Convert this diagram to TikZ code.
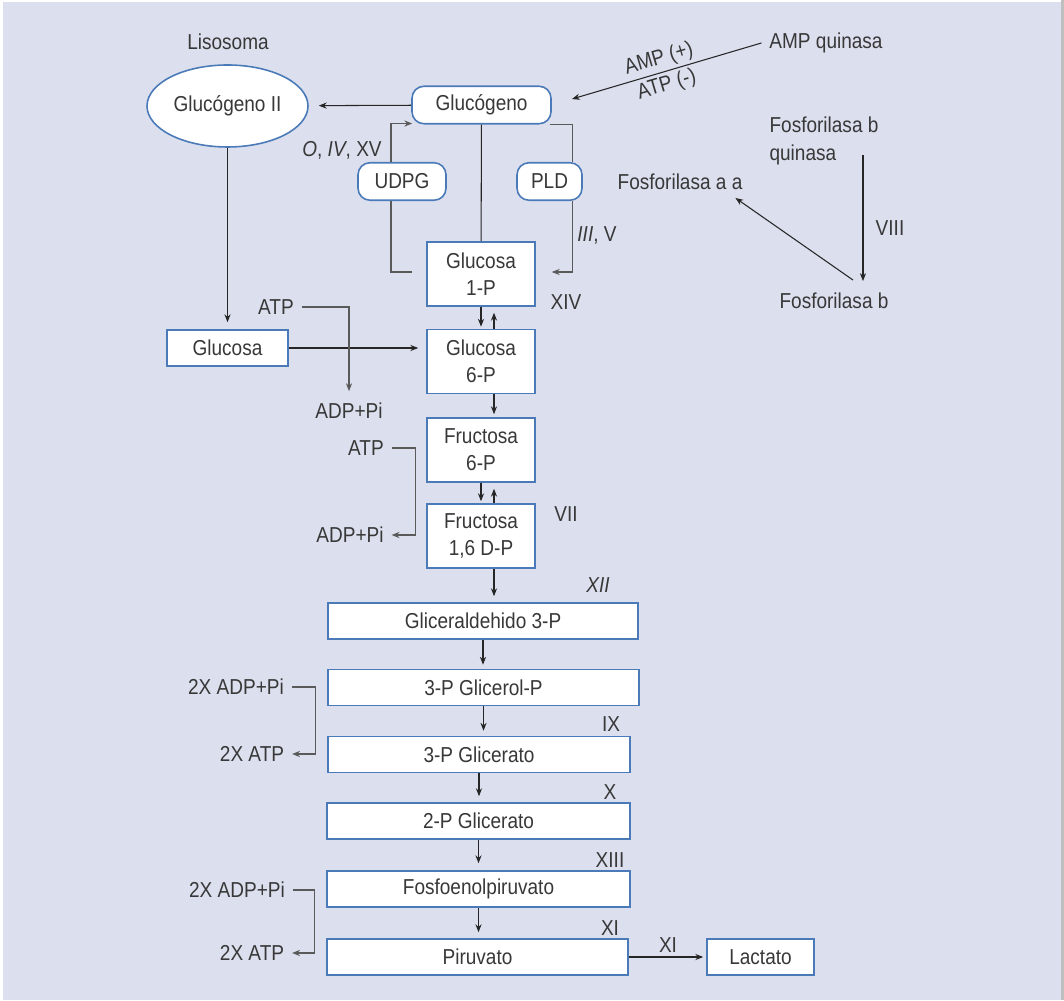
\documentclass[tikz,border=0pt]{standalone}
\usepackage{fontspec}
\setmainfont{Liberation Sans}[FakeStretch=0.88]
\usepackage{tikz}
\usetikzlibrary{shapes,arrows.meta,positioning}

\definecolor{fondo}{HTML}{DCDFEE}
\definecolor{borde}{HTML}{4A7AB8}
\definecolor{texto}{HTML}{383838}
\definecolor{codogris}{HTML}{5A5A5A}

\tikzset{
	caja/.style={draw=borde,fill=white,line width=0.9pt,inner sep=0pt,align=center,minimum height=0.72cm},
	doble/.style={caja,minimum width=2.16cm,minimum height=1.28cm},
	redonda/.style={caja,rounded corners=0.24cm,minimum height=0.75cm},
	ovalo/.style={caja,ellipse,minimum width=3.22cm,minimum height=1.64cm},
	etiq/.style={inner sep=0.15cm,align=left},
	codo/.style={draw=codogris},
}

\begin{document}
\begin{tikzpicture}[>={Stealth[length=4.5pt,width=3.5pt]},every node/.style={text=texto,font=\fontsize{12.3}{15.5}\selectfont},line width=0.6pt,draw=black!85]
	\useasboundingbox (0,0) rectangle (21.28,20);
	\fill[fondo] (0.05,0) rectangle (21.22,19.95);
	\fill[black!25] (21.22,0) rectangle (21.28,20);
	\node[etiq] (3) at (4.56,19.16) {Lisosoma};
	\node[ovalo] (2) at (4.55,17.88) {Glucógeno II};
	\node[redonda,minimum width=2.78cm] (1) at (9.63,17.9) {Glucógeno};
	\node[redonda,minimum width=1.76cm] (4) at (8.04,16.37) {UDPG};
	\node[redonda,minimum width=1.3cm] (5) at (10.99,16.37) {PLD};
	\node[doble] (6) at (9.62,14.52) {Glucosa\\1-P};
	\node[caja,minimum width=2.42cm] (7) at (4.55,13.04) {Glucosa};
	\node[doble] (8) at (9.62,12.77) {Glucosa\\6-P};
	\node[doble] (9) at (9.62,11.0) {Fructosa\\6-P};
	\node[doble] (10) at (9.62,9.28) {Fructosa\\1,6 D-P};
	\node[caja,minimum width=6.2cm] (11) at (9.66,7.58) {Gliceraldehido 3-P};
	\node[caja,minimum width=6.22cm] (12) at (9.67,6.25) {3-P Glicerol-P};
	\node[caja,minimum width=6.04cm] (13) at (9.58,4.91) {3-P Glicerato};
	\node[caja,minimum width=6.06cm] (14) at (9.57,3.58) {2-P Glicerato};
	\node[caja,minimum width=6.06cm] (15) at (9.57,2.22) {Fosfoenolpiruvato};
	\node[caja,minimum width=6.02cm] (16) at (9.55,0.86) {Piruvato};
	\node[caja,minimum width=2.14cm] (17) at (15.21,0.86) {Lactato};
	\node[etiq] (18) at (5.52,13.86) {ATP};
	\node[etiq] (19) at (6.98,11.78) {ADP+Pi};
	\node[etiq] (20) at (7.32,11.04) {ATP};
	\node[etiq] (21) at (7.0,9.3) {ADP+Pi};
	\node[etiq] (22) at (4.72,6.26) {2X ADP+Pi};
	\node[etiq] (23) at (5.04,4.92) {2X ATP};
	\node[etiq] (24) at (4.74,2.2) {2X ADP+Pi};
	\node[etiq] (25) at (5.04,0.94) {2X ATP};
	\node[etiq] (26) at (16.52,19.14) {AMP quinasa};
	\node[etiq] (27) at (16.48,17.18) {Fosforilasa b\\quinasa};
	\node[etiq] (28) at (16.68,13.98) {Fosforilasa b};
	\node[etiq] (29) at (13.6,16.36) {Fosforilasa a a};
	\node (30) at (6.84,17.0) {\textit{O}, \textit{IV}, XV};
	\node (31) at (11.94,15.3) {\textit{III}, V};
	\node (32) at (11.32,13.96) {XIV};
	\node (33) at (11.32,9.72) {VII};
	\node (34) at (11.96,8.3) {\textit{XII}};
	\node (35) at (12.22,5.52) {IX};
	\node (36) at (12.2,4.16) {X};
	\node (37) at (12.2,2.8) {XIII};
	\node (38) at (12.2,1.44) {XI};
	\node (39) at (13.36,1.1) {XI};
	\node (40) at (17.8,15.44) {VIII};
	\draw[->,shorten >=0.2cm] (1) -- (2);
	\draw (1) -- (6);
	\draw[codo] ([xshift=-0.28cm,yshift=0.04cm]6.west) -| ([xshift=-0.22cm]4.south);
	\draw[codo,->] ([xshift=-0.22cm]4.north) |- ([xshift=0.02cm,yshift=0.02cm]1.south west);
	\draw[codo] ([xshift=-0.04cm]1.south east) -| ([xshift=0.46cm]5.north);
	\draw[codo,->] ([xshift=0.46cm]5.south) |- ([xshift=0.32cm,yshift=0.04cm]6.east);
	\draw[->,shorten >=0.04cm] (6) -- (8);
	\draw[->,shorten >=0.12cm] ([xshift=0.26cm]8.north) -- ([xshift=0.26cm]6.south);
	\draw[->,shorten >=0.06cm] ([xshift=0.26cm]8.south) -- ([xshift=0.26cm]9.north);
	\draw[->,shorten >=0.04cm] (9) -- (10);
	\draw[->,shorten >=0.12cm] ([xshift=0.26cm]10.north) -- ([xshift=0.26cm]9.south);
	\draw[->,shorten >=0.12cm] ([xshift=0.26cm]10.south) -- ([xshift=0.26cm]10.south |- 11.north);
	\draw[->,shorten >=0.08cm] (11.south) -- (11.south |- 12.north);
	\draw[->,shorten >=0.1cm] (12.south) -- (12.south |- 13.north);
	\draw[->,shorten >=0.12cm] (13.south) -- (13.south |- 14.north);
	\draw[->,shorten >=0.14cm] (14.south) -- (14.south |- 15.north);
	\draw[->,shorten >=0.12cm] (15.south) -- (15.south |- 16.north);
	\draw[->,shorten >=0.06cm] (16) -- (17);
	\draw[->,shorten >=0.14cm] (2) -- (7);
	\draw[->,shorten >=0.16cm] (7.east) -- (7.east -| 8.west);
	\draw[codo,->,shorten >=0.08cm] (18) -| (19);
	\draw[codo,->] (20.east) -- ++(0.48,0) |- (21.east);
	\draw[codo,->] (22.east) -- ++(0.47,0) |- (23.east);
	\draw[codo,->] (24.east) -- ++(0.44,0) |- (25.east);
	\draw[<-,shorten <=0.42cm] (1.east) -- (26.west)
		node[pos=0.53,sloped,above,inner sep=1.8pt] {AMP (+)}
		node[pos=0.53,sloped,below,inner sep=1.8pt] {ATP (-)};
	\draw[->,shorten >=0.08cm] ([xshift=-0.47cm,yshift=-0.28cm]27.east) coordinate (q) -- (q |- 28.north);
	\draw[->] ([xshift=0.38cm,yshift=0.1cm]28.north) -- ([xshift=-0.3cm]29.south east);
\end{tikzpicture}
\end{document}
